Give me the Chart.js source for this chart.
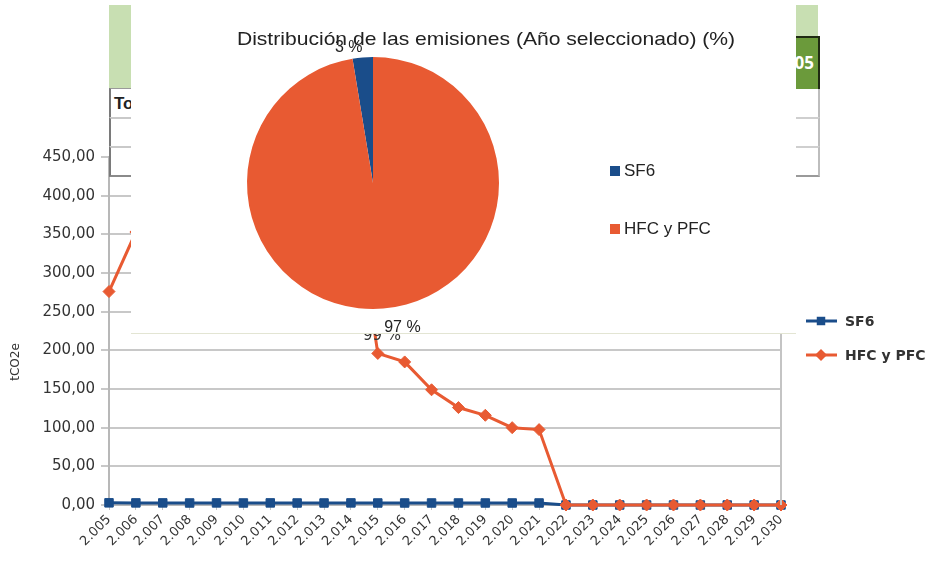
<!DOCTYPE html>
<html>
<head>
<meta charset="utf-8">
<script src="https://cdn.jsdelivr.net/npm/chart.js@4.4.1/dist/chart.umd.min.js"></script>
<style>
  html, body { margin:0; padding:0; background:#fff; }
  #page { position:relative; width:931px; height:562px; overflow:hidden; background:#fff; font-family:"Liberation Sans", Arial, sans-serif; }
  #linecanvas { position:absolute; left:0; top:0; }
  .cell { position:absolute; box-sizing:border-box; overflow:hidden; white-space:nowrap; background:#fff; }
  #piepanel { position:absolute; left:131px; top:0; width:665px; height:334px; background:#fff; border-bottom:1px solid #e3e5d3; box-sizing:border-box; }
  #piecanvas { position:absolute; left:0; top:0; }
</style>
</head>
<body>
<div id="page">
  <canvas id="linecanvas" width="931" height="562"></canvas>

  <!-- spreadsheet cells peeking out behind the pie -->
  <div class="cell" style="left:109px;top:5px;width:40px;height:83px;background:#c8dfb2;"></div>
  <div class="cell" style="left:109px;top:88px;width:40px;height:29px;border-left:2px solid #7a7a7a;border-top:1px solid #9a9a9a;font:bold 17px 'Liberation Sans',Arial,sans-serif;color:#222;padding:5px 0 0 3px;">Total</div>
  <div class="cell" style="left:109px;top:117px;width:40px;height:29px;border-left:2px solid #7a7a7a;border-top:2px solid #c9c9c9;"></div>
  <div class="cell" style="left:109px;top:146px;width:40px;height:31px;border-left:2px solid #7a7a7a;border-top:2px solid #c9c9c9;border-bottom:2px solid #8a8a8a;"></div>

  <div class="cell" style="left:760px;top:5px;width:58px;height:32px;background:#c8dfb2;"></div>
  <div class="cell" style="left:760px;top:36px;width:60px;height:53px;background:#6b9a3b;border-top:2px solid #1f2a12;border-right:2px solid #1f2a12;color:#fff;font:bold 17px 'Open Sans',sans-serif;text-align:right;padding:13px 4px 0 0;">2005</div>
  <div class="cell" style="left:760px;top:89px;width:60px;height:28px;border-right:2px solid #bdbdbd;"></div>
  <div class="cell" style="left:760px;top:117px;width:60px;height:29px;border-right:2px solid #bdbdbd;border-top:2px solid #cfcfcf;"></div>
  <div class="cell" style="left:760px;top:146px;width:60px;height:31px;border-right:2px solid #bdbdbd;border-top:2px solid #cfcfcf;border-bottom:2px solid #9a9a9a;"></div>

  <div id="piepanel"><canvas id="piecanvas" width="665" height="333"></canvas></div>
</div>

<script>
// line chart data
var years = ["2.005","2.006","2.007","2.008","2.009","2.010","2.011","2.012","2.013","2.014","2.015","2.016","2.017",
             "2.018","2.019","2.020","2.021","2.022","2.023","2.024","2.025","2.026","2.027","2.028","2.029","2.030"];
var sf6Values = [2.8, 2.7, 2.7, 2.6, 2.7, 2.6, 2.7, 2.6, 2.6, 2.7, 2.6, 2.6, 2.6, 2.6, 2.6, 2.6, 2.6,
                 0, 0, 0, 0, 0, 0, 0, 0, 0];
// 2.007 - 2.014 sit behind the pie panel, rough guesses
var hfcValues = [276, 353, 368, 380, 392, 400, 410, 418, 425, 430, 196, 185, 149, 126, 116, 100, 97.5,
                 0, 0, 0, 0, 0, 0, 0, 0, 0];
var yTicks = [0, 50, 100, 150, 200, 250, 300, 350, 400, 450];
var seriesNames = ["SF6", "HFC y PFC"];
var hiddenLabel = "99 %";

// pie chart data (selected year)
var pieNames = ["SF6", "HFC y PFC"];
var pieValues = [2.6, 97.4];
var pieTitle = "Distribución de las emisiones (Año seleccionado) (%)";

var blue = "#1a4d8a";
var orange = "#e85a32";

var baseFont = "'DejaVu Sans', sans-serif";
var pieFont = "'Liberation Sans', Arial, sans-serif";

var lineExtras = {
    id: "lineExtras",
    afterDraw: function(chart){
        var ctx = chart.ctx;
        var area = chart.chartArea;
        ctx.save();
        // right border of the plot
        ctx.strokeStyle = "#c4c4c4";
        ctx.lineWidth = 2;
        ctx.beginPath();
        ctx.moveTo(area.right, area.top);
        ctx.lineTo(area.right, area.bottom);
        ctx.stroke();

        // axis title
        ctx.fillStyle = "#333";
        ctx.font = "12px " + baseFont;
        ctx.translate(16, 362);
        ctx.rotate(-Math.PI/2);
        ctx.textAlign = "center";
        ctx.textBaseline = "middle";
        ctx.fillText("tCO2e", 0, 0);
        ctx.restore();

        // leftover data label
        ctx.save();
        ctx.fillStyle = "#333";
        ctx.font = "15px " + baseFont;
        ctx.textAlign = "center";
        ctx.textBaseline = "middle";
        ctx.fillText(hiddenLabel, 382, 336);

        // legend
        var rows = [{y:321, color:blue, style:"rect"}, {y:355, color:orange, style:"rectRot"}];
        for (var i = 0; i < rows.length; i++) {
            var r = rows[i];
            ctx.strokeStyle = r.color;
            ctx.lineWidth = 3;
            ctx.beginPath();
            ctx.moveTo(806, r.y);
            ctx.lineTo(837, r.y);
            ctx.stroke();
            ctx.fillStyle = r.color;
            Chart.helpers.drawPoint(ctx, {pointStyle:r.style, radius:6, borderWidth:0}, 821, r.y);
            ctx.fillStyle = "#333";
            ctx.font = "bold 14px " + baseFont;
            ctx.textAlign = "left";
            ctx.fillText(seriesNames[i], 845, r.y + 1);
        }
        ctx.restore();
    }
};

var lineChart = new Chart(document.getElementById("linecanvas").getContext("2d"), {
    type: "line",
    data: {
        labels: years,
        datasets: [{
            label: seriesNames[0],
            data: sf6Values,
            borderColor: blue,
            backgroundColor: blue,
            borderWidth: 3,
            pointStyle: "rect",
            pointRadius: 6,
            pointBorderWidth: 1,
            pointBorderColor: blue,
            clip: false,
            order: 1
        }, {
            label: seriesNames[1],
            data: hfcValues,
            borderColor: orange,
            backgroundColor: orange,
            borderWidth: 3,
            pointStyle: "rectRot",
            pointRadius: 6,
            pointBorderWidth: 1,
            pointBorderColor: orange,
            clip: false,
            order: 0
        }]
    },
    options: {
        responsive: false,
        animation: false,
        devicePixelRatio: 1,
        layout: { autoPadding: false, padding: { left: 0, right: 150, top: 157, bottom: 0 } },
        plugins: { legend: { display: false }, title: { display: false }, tooltip: { enabled: false } },
        scales: {
            x: {
                offset: false,
                grid: { drawOnChartArea: false, drawTicks: true, tickLength: 5, color: "#c4c4c4" },
                border: { color: "#b8b8b8", width: 2 },
                ticks: { minRotation: 45, maxRotation: 45, autoSkip: false, padding: 2,
                         color: "#333", font: { family: baseFont, size: 13 } },
                afterFit: function(s){ s.height = 57; }
            },
            y: {
                min: 0,
                max: 450,
                afterBuildTicks: function(s){ s.ticks = yTicks.map(function(v){ return {value:v}; }); },
                grid: { color: "#c8c8c8", lineWidth: 2, tickLength: 8 },
                border: { color: "#b8b8b8", width: 2 },
                ticks: { color: "#333", padding: 6, font: { family: baseFont, size: 15 },
                         callback: function(v){ return v.toFixed(2).replace(".", ","); } },
                afterFit: function(s){ s.width = 109; }
            }
        }
    },
    plugins: [lineExtras]
});

var pieExtras = {
    id: "pieExtras",
    afterDraw: function(chart){
        var ctx = chart.ctx;
        ctx.save();
        ctx.fillStyle = "#222";
        ctx.font = "19px " + pieFont;
        ctx.textAlign = "center";
        ctx.textBaseline = "middle";
        // the title in the original is a bit wider than the font
        ctx.save();
        ctx.scale(1.11, 1);
        ctx.fillText(pieTitle, 355 / 1.11, 40);
        ctx.restore();

        // percentage labels outside each slice
        var total = pieValues.reduce(function(a, b){ return a + b; }, 0);
        var arcs = chart.getDatasetMeta(0).data;
        ctx.font = "16px " + pieFont;
        for (var i = 0; i < arcs.length; i++) {
            var p = arcs[i].getProps(["x", "y", "startAngle", "endAngle", "outerRadius"], true);
            var mid = (p.startAngle + p.endAngle) / 2;
            var dx = Math.cos(mid), dy = Math.sin(mid);
            var d = p.outerRadius + (dy < 0 ? 2 : 11);
            ctx.textAlign = dx < 0 ? "right" : "left";
            ctx.textBaseline = dy < 0 ? "bottom" : "top";
            ctx.fillText(Math.round(pieValues[i] / total * 100) + " %", p.x + dx * d, p.y + dy * d);
        }

        // legend
        var colors = [blue, orange];
        var ys = [171, 229];
        ctx.font = "17px " + pieFont;
        ctx.textAlign = "left";
        ctx.textBaseline = "middle";
        for (var j = 0; j < pieNames.length; j++) {
            ctx.fillStyle = colors[j];
            ctx.fillRect(479, ys[j] - 5, 10, 10);
            ctx.fillStyle = "#222";
            ctx.fillText(pieNames[j], 493, ys[j]);
        }
        ctx.restore();
    }
};

var pieChart = new Chart(document.getElementById("piecanvas").getContext("2d"), {
    type: "pie",
    data: {
        labels: pieNames,
        datasets: [{ data: pieValues, backgroundColor: [blue, orange], borderWidth: 0 }]
    },
    options: {
        responsive: false,
        animation: false,
        devicePixelRatio: 1,
        rotation: -pieValues[0] / (pieValues[0] + pieValues[1]) * 360,
        layout: { autoPadding: false, padding: { left: 116, right: 297, top: 57, bottom: 24 } },
        plugins: { legend: { display: false }, title: { display: false }, tooltip: { enabled: false } }
    },
    plugins: [pieExtras]
});
</script>
</body>
</html>
